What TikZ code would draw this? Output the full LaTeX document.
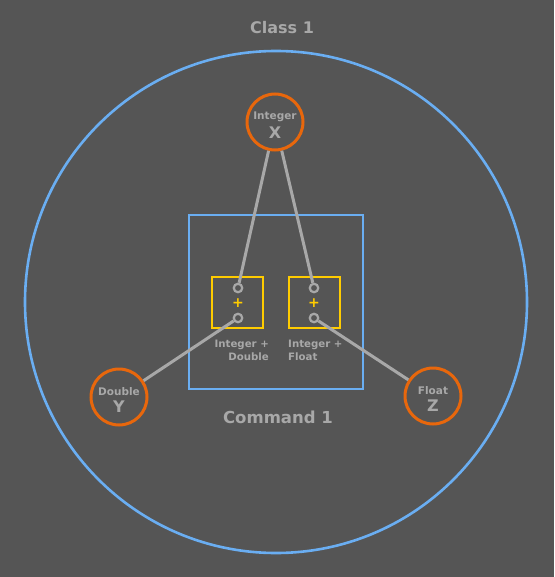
\documentclass[tikz,border=0pt]{standalone}
\usepackage{fontspec}
\setmainfont{DejaVu Sans}
\usetikzlibrary{positioning}
\definecolor{bggray}{HTML}{555555}
\definecolor{txtgray}{HTML}{A8A8A8}
\definecolor{skyblue}{HTML}{6AAEF2}
\definecolor{deeporange}{HTML}{E8670C}
\definecolor{gold}{HTML}{FFCC00}
\tikzset{font=\bfseries}
\tikzset{
	var/.style={circle, draw=deeporange, line width=3pt, minimum size=56pt, inner sep=0pt, align=center, text=txtgray},
	port/.style={circle, draw=txtgray, line width=2.2pt, minimum size=8.5pt, inner sep=0pt},
	adder/.style={draw=gold, line width=2.8pt, minimum size=51pt, inner sep=0pt},
	wire/.style={draw=txtgray, line width=3pt},
	caption/.style={text=txtgray, inner sep=0pt}
}
\newcommand{\vartext}[2]{{\fontsize{10.5}{11}\selectfont\rule{0pt}{14pt}#1}\\[5pt]{\fontsize{16}{17}\selectfont #2}}

\begin{document}
\begin{tikzpicture}[x=1pt, y=-1pt]
	\fill[bggray] (0,0) rectangle (554,577);
	\useasboundingbox (0,0) rectangle (554,577);

	% class and command
	\draw[skyblue, line width=2.6pt] (276,302) circle (251);
	\node[caption, font=\bfseries\fontsize{16}{18}\selectfont] (class) at (282,28) {Class 1};
	\node[draw=skyblue, line width=2.6pt, minimum size=174pt, inner sep=0pt] (cmd) at (276,302) {};
	\node[caption, font=\bfseries\fontsize{16.5}{18}\selectfont] (cmdlbl) at (278,417) {Command 1};

	% variables
	\node[var] (intx) at (275,122) {\vartext{Integer}{X}};
	\node[var] (dbly) at (119,397) {\vartext{Double}{Y}};
	\node[var] (fltz) at (433,396) {\vartext{Float}{Z}};

	% adders
	\node[adder] (adda) at (237.5,302.5) {};
	\node[adder] (addb) at (314.5,302.5) {};
	\node[text=gold, font=\bfseries\fontsize{14}{14}\selectfont, inner sep=0pt] (plusa) at (238,303) {+};
	\node[text=gold, font=\bfseries\fontsize{14}{14}\selectfont, inner sep=0pt] (plusb) at (314,303) {+};
	\node[port] (ina) at (238,288) {};
	\node[port] (outa) at (238,318) {};
	\node[port] (inb) at (314,288) {};
	\node[port] (outb) at (314,318) {};

	\node[caption, align=right, anchor=north east, font=\bfseries\fontsize{10.2}{13}\selectfont] (suma) at (269,340) {Integer +\\Double};
	\node[caption, align=left, anchor=north west, font=\bfseries\fontsize{10.2}{13}\selectfont] (sumb) at (288,340) {Integer +\\Float};

	% wires
	\draw[wire] (intx) -- (ina);
	\draw[wire] (intx) -- (inb);
	\draw[wire] (outa) -- (dbly);
	\draw[wire] (outb) -- (fltz);
\end{tikzpicture}
\end{document}
